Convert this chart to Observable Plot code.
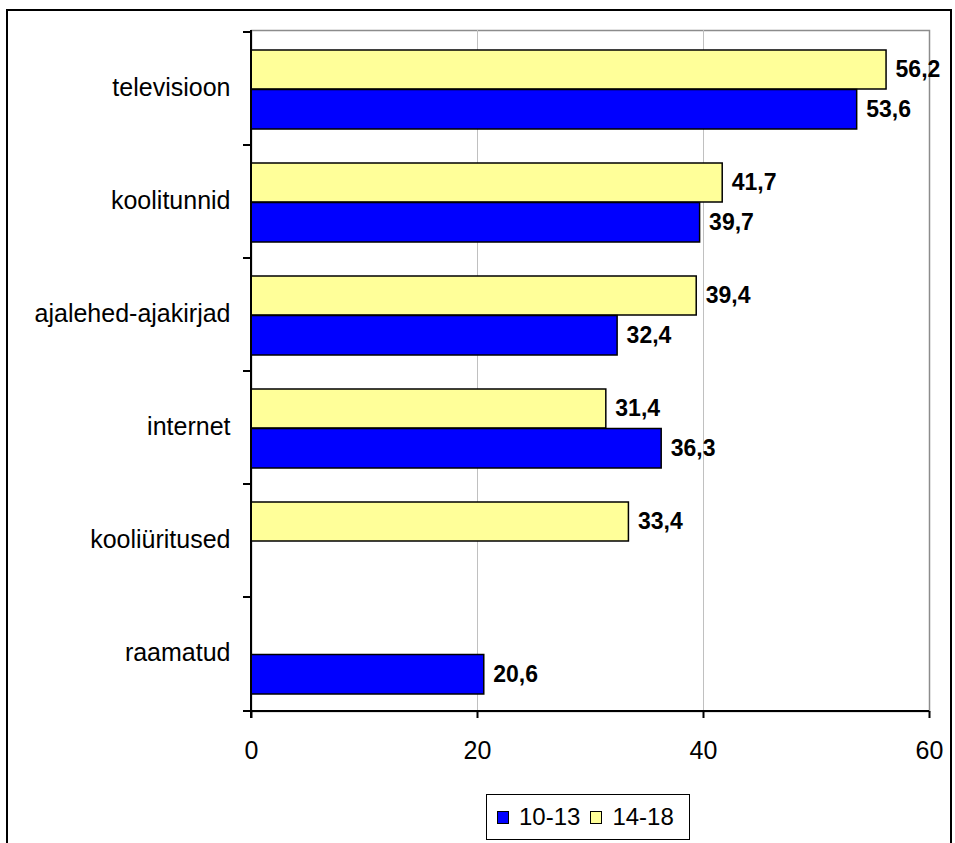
<!DOCTYPE html>
<html>
<head>
<meta charset="utf-8">
<script src="https://cdn.jsdelivr.net/npm/d3@7"></script>
<script src="https://cdn.jsdelivr.net/npm/@observablehq/plot@0.6"></script>
<style>
  html, body { margin: 0; padding: 0; background: #fff; }
  body { width: 955px; height: 843px; position: relative; overflow: hidden; font-family: "Liberation Sans", Arial, sans-serif; }
  #frame { position: absolute; left: 6px; top: 9px; width: 946px; height: 900px; border: 2px solid #000; box-sizing: border-box; }
  #chart { position: absolute; left: 0; top: 0; }
  #legend { position: absolute; left: 486px; top: 794px; width: 204px; height: 46px; border: 1.5px solid #000; box-sizing: border-box; background: #fff;
            display: flex; align-items: center; justify-content: flex-start; padding-left: 10px; gap: 10px; font-size: 24px; color: #000; }
  .item { display: flex; align-items: center; gap: 10px; }
  .sw { width: 12px; height: 13px; border: 1.5px solid #000; box-sizing: border-box; }
</style>
</head>
<body>
<div id="frame"></div>
<div id="chart"></div>
<div id="legend"></div>
<script>
const categories = ["televisioon", "koolitunnid", "ajalehed-ajakirjad", "internet", "kooliüritused", "raamatud"];
const series = ["10-13", "14-18"];
const values1013 = [53.6, 39.7, 32.4, 36.3, null, 20.6];
const values1418 = [56.2, 41.7, 39.4, 31.4, 33.4, null];
const xTicks = [0, 20, 40, 60];
const colors = {"10-13": "#0000ff", "14-18": "#ffff99"};

const rows1013 = categories.map((c, i) => ({category: c, series: "10-13", value: values1013[i]})).filter(d => d.value != null);
const rows1418 = categories.map((c, i) => ({category: c, series: "14-18", value: values1418[i]})).filter(d => d.value != null);
const fmt = v => d3.format(".1f")(v).replace(".", ",");

function axisLines(index, scales, values, dims) {
  const y = scales.y;
  const g = d3.create("svg:g");
  const x0 = dims.marginLeft;
  const x1 = dims.width - dims.marginRight;
  const yTop = dims.marginTop;
  const yBot = dims.height - dims.marginBottom;
  for (const c of categories) {
    const yy = y(c);
    g.append("line").attr("x1", x0 - 8).attr("x2", x0).attr("y1", yy).attr("y2", yy)
      .attr("stroke", "#000").attr("stroke-width", 2);
  }
  g.append("line").attr("x1", x0).attr("x2", x0).attr("y1", yTop).attr("y2", yBot + 7)
    .attr("stroke", "#000").attr("stroke-width", 2);
  g.append("line").attr("x1", x0 - 8).attr("x2", x1).attr("y1", yBot).attr("y2", yBot)
    .attr("stroke", "#000").attr("stroke-width", 2);
  return g.node();
}

const chart = Plot.plot({
  width: 955,
  height: 790,
  marginTop: 30,
  marginBottom: 79,
  marginLeft: 251,
  marginRight: 26,
  style: {fontFamily: '"Liberation Sans", Arial, sans-serif', background: "transparent", color: "#000"},
  x: {domain: [0, 60], ticks: xTicks},
  y: {domain: categories, padding: 0},
  marks: [
    Plot.frame({stroke: "#8c8c8c", strokeWidth: 1.5}),
    Plot.gridX(xTicks.filter(t => t > 0 && t < 60), {stroke: "#c0c0c0", strokeOpacity: 1, strokeWidth: 1}),
    Plot.barX(rows1418, {x: "value", y: "category", fill: colors["14-18"], stroke: "#000", strokeWidth: 1.5, insetTop: 18, insetBottom: 56}),
    Plot.barX(rows1013, {x: "value", y: "category", fill: colors["10-13"], stroke: "#000", strokeWidth: 1.5, insetTop: 57.5, insetBottom: 16}),
    Plot.text(rows1418, {x: "value", y: "category", text: d => fmt(d.value), dx: 9, dy: -19, textAnchor: "start", fontWeight: "bold", fontSize: 23, fill: "#000"}),
    Plot.text(rows1013, {x: "value", y: "category", text: d => fmt(d.value), dx: 9, dy: 21, textAnchor: "start", fontWeight: "bold", fontSize: 23, fill: "#000"}),
    Plot.axisY({tickSize: 0, tickPadding: 21, fontSize: 25, dy: -1, label: null}),
    Plot.axisX({ticks: xTicks, tickSize: 7, tickPadding: 23, fontSize: 25, label: null, strokeWidth: 2}),
    axisLines
  ]
});
document.getElementById("chart").appendChild(chart);

const legend = document.getElementById("legend");
for (const s of series) {
  const item = document.createElement("div");
  item.className = "item";
  const sw = document.createElement("div");
  sw.className = "sw";
  sw.style.background = colors[s];
  const t = document.createElement("span");
  t.textContent = s;
  item.appendChild(sw);
  item.appendChild(t);
  legend.appendChild(item);
}
</script>
</body>
</html>
